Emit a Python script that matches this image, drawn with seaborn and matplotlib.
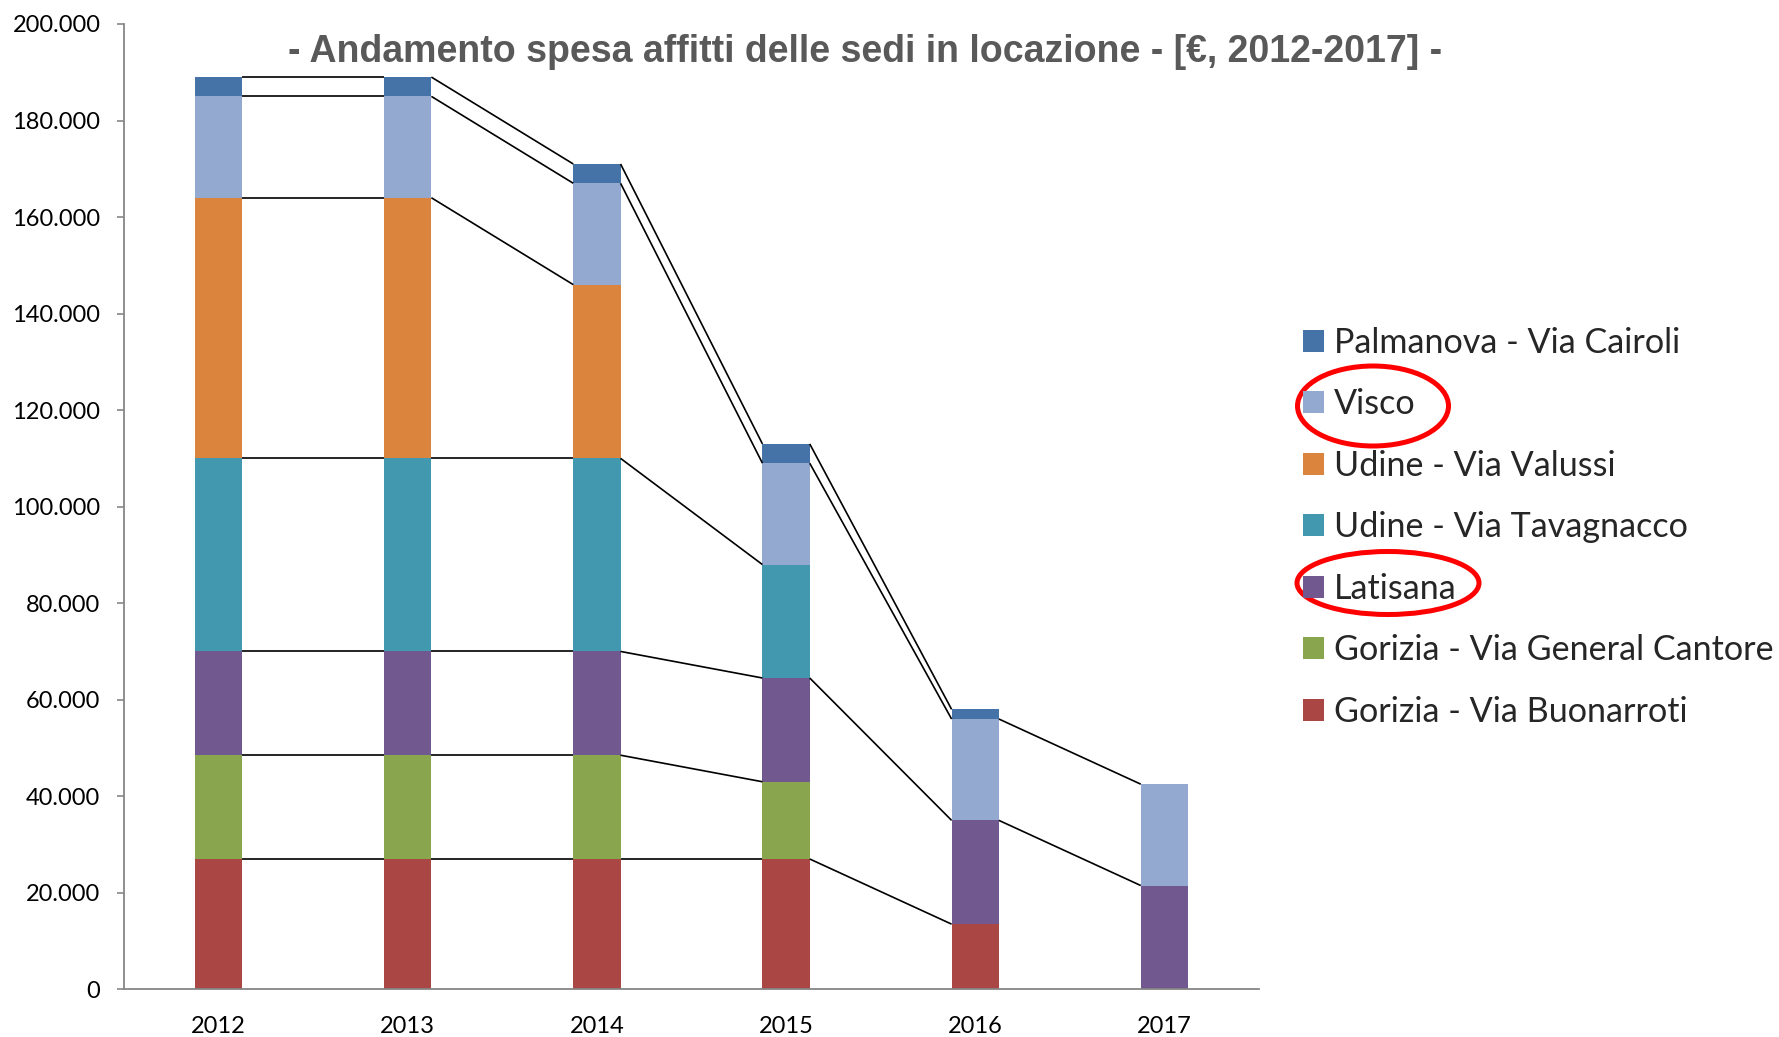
import matplotlib
matplotlib.use("Agg")
import matplotlib.pyplot as plt
import seaborn as sns
import numpy as np
from matplotlib.patches import Patch, Ellipse
from matplotlib.ticker import FuncFormatter, MultipleLocator

# ---- data ----
years = ["2012", "2013", "2014", "2015", "2016", "2017"]
buonarroti = [27000, 27000, 27000, 27000, 13500, 0]
general_cantore = [21500, 21500, 21500, 16000, 0, 0]
latisana = [21500, 21500, 21500, 21500, 21500, 21500]
tavagnacco = [40000, 40000, 40000, 23500, 0, 0]
valussi = [54000, 54000, 36000, 0, 0, 0]
visco = [21000, 21000, 21000, 21000, 21000, 21000]
palmanova = [4000, 4000, 4000, 4000, 2000, 0]

series_names = ["Gorizia - Via Buonarroti", "Gorizia - Via General Cantore", "Latisana",
                "Udine - Via Tavagnacco", "Udine - Via Valussi", "Visco",
                "Palmanova - Via Cairoli"]
series_values = [buonarroti, general_cantore, latisana, tavagnacco, valussi, visco, palmanova]
colors = ["#AA4643", "#89A54E", "#71588F", "#4198AF", "#DB843D", "#93A9CF", "#4572A7"]
title = "- Andamento spesa affitti delle sedi in locazione - [€, 2012-2017] -"

# ---- style ----
sns.set_theme(style="white")
plt.rcParams["font.family"] = ["Lato", "DejaVu Sans"]

W, H = 1779, 1037
fig = plt.figure(figsize=(W / 100, H / 100), dpi=100)
ax = fig.add_axes([124 / W, 1 - 989.3 / H, (1259 - 124) / W, (989.3 - 24) / H])

bar_w = 0.25
bottom = np.zeros(len(years))
tops = []
for name, vals, c in zip(series_names, series_values, colors):
    v = np.array(vals, dtype=float)
    sns.barplot(x=years, y=v, bottom=bottom, color=c, width=bar_w, saturation=1,
                errorbar=None, linewidth=0, ax=ax)
    bottom = bottom + v
    tops.append(bottom.copy())

# series lines (Excel style) between adjacent bars where both values exist
for vals, top in zip(series_values, tops):
    for i in range(len(years) - 1):
        if vals[i] > 0 and vals[i + 1] > 0:
            ax.plot([i + bar_w / 2, i + 1 - bar_w / 2], [top[i], top[i + 1]],
                    color="black", lw=1.2, zorder=3, solid_capstyle="butt")

ax.set_xlim(-0.5, len(years) - 0.5)
ax.set_ylim(0, 200000)
ax.yaxis.set_major_locator(MultipleLocator(20000))
ax.yaxis.set_major_formatter(FuncFormatter(lambda v, p: f"{int(v):,}".replace(",", ".")))
ax.set_xlabel("")
ax.set_ylabel("")
for s in ["top", "right"]:
    ax.spines[s].set_visible(False)
for s in ["left", "bottom"]:
    ax.spines[s].set_color("#868686")
    ax.spines[s].set_linewidth(1.3)
ax.tick_params(axis="y", which="major", length=5, width=1.2, color="#868686",
               labelsize=17, pad=12, left=True, labelcolor="black")
ax.tick_params(axis="x", length=0, labelsize=17, pad=19, labelcolor="black")

# legend (top to bottom reversed stacking order)
fs = 24.6
handles = [Patch(facecolor=c, edgecolor="none") for c in colors[::-1]]
fig.legend(handles, series_names[::-1], loc="upper left",
           bbox_to_anchor=(1303 / W, 1 - 327 / H), frameon=False, fontsize=fs,
           handlelength=15.1 / fs, handleheight=15.1 / fs, handletextpad=0.3,
           labelspacing=0.862, borderpad=0, borderaxespad=0)

# red highlight ellipses
fig.add_artist(Ellipse((1373 / W, 1 - 406 / H), 151 / W, 80 / H, transform=fig.transFigure,
                       fill=False, edgecolor="#FF0000", lw=3.6))
fig.add_artist(Ellipse((1388 / W, 1 - 583 / H), 182 / W, 63 / H, transform=fig.transFigure,
                       fill=False, edgecolor="#FF0000", lw=3.6))

fig.text(865 / W, 1 - 61.7 / H, title, ha="center", va="baseline", fontsize=27,
         fontweight="bold", color="#595959", family=["Liberation Sans", "DejaVu Sans"])

fig.savefig("out.png", dpi=100)
